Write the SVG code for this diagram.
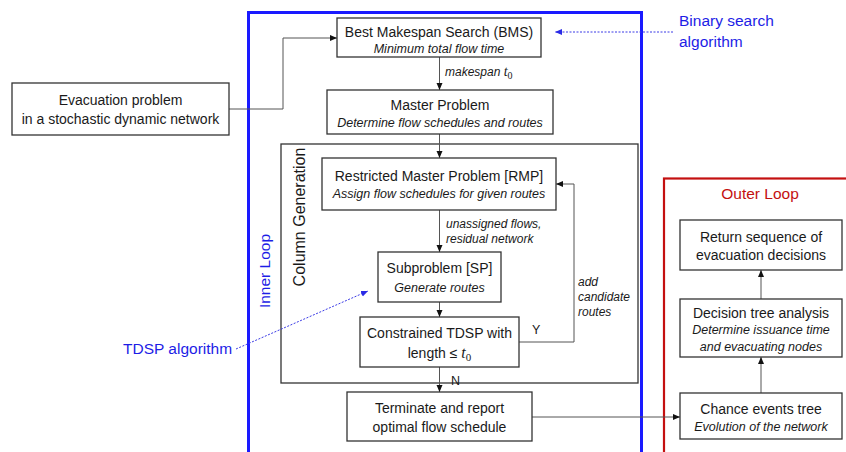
<svg xmlns="http://www.w3.org/2000/svg" width="846" height="452" viewBox="0 0 846 452">
  <style>
    text { font-family: "Liberation Sans", Arial, sans-serif; fill: #1a1a1a; }
    .t { font-size: 14px; text-anchor: middle; }
    .i { font-size: 12.5px; font-style: italic; text-anchor: middle; }
    .lbl { font-size: 12px; font-style: italic; }
    .blue { fill: #1d1de6; font-size: 15.5px; }
    .box { fill: #ffffff; stroke: #333333; stroke-width: 1.3; }
    .edge { fill: none; stroke: #555555; stroke-width: 1; }
    .dot { fill: none; stroke: #3a3ae6; stroke-width: 1; stroke-dasharray: 2 1.5; }
  </style>
  <defs>
    <marker id="arr" markerUnits="userSpaceOnUse" markerWidth="8" markerHeight="8" refX="7" refY="4" orient="auto">
      <path d="M0,1 L7,4 L0,7 Z" fill="#111111"/>
    </marker>
    <marker id="arrB" markerUnits="userSpaceOnUse" markerWidth="8" markerHeight="8" refX="7" refY="4" orient="auto">
      <path d="M0,1 L7,4 L0,7 Z" fill="#2a2ae6"/>
    </marker>
  </defs>

  <rect width="846" height="452" fill="#ffffff"/>

  <!-- loop frames -->
  <g id="inner-loop">
    <rect x="248.5" y="12.5" width="393" height="470" fill="none" stroke="#1a1aff" stroke-width="3"/>
    <text class="blue" transform="translate(270,271) rotate(-90)" text-anchor="middle">Inner Loop</text>
  </g>
  <g id="outer-loop">
    <rect x="664" y="178.5" width="200" height="300" fill="none" stroke="#c41010" stroke-width="2.2"/>
    <text x="760" y="199" text-anchor="middle" style="fill:#c41010;font-size:15.5px">Outer Loop</text>
  </g>
  <g id="column-generation">
    <rect x="281" y="144" width="357" height="239" fill="none" stroke="#333333" stroke-width="1.3"/>
    <text transform="translate(305,217) rotate(-90)" text-anchor="middle" style="font-size:16px">Column Generation</text>
  </g>

  <!-- connectors -->
  <g id="connectors">
    <polyline class="edge" points="229,109 283,109 283,38 337,38" marker-end="url(#arr)"/>
    <line class="edge" x1="439.5" y1="57" x2="439.5" y2="90" marker-end="url(#arr)"/>
    <line class="edge" x1="439.5" y1="134" x2="439.5" y2="158" marker-end="url(#arr)"/>
    <line class="edge" x1="439.5" y1="210" x2="439.5" y2="252" marker-end="url(#arr)"/>
    <line class="edge" x1="439.5" y1="302" x2="439.5" y2="317" marker-end="url(#arr)"/>
    <polyline class="edge" points="519,342 574,342 574,184 556,184" marker-end="url(#arr)"/>
    <line class="edge" x1="439.5" y1="367" x2="439.5" y2="392" marker-end="url(#arr)"/>
    <line class="edge" x1="532" y1="417" x2="680" y2="417" marker-end="url(#arr)"/>
    <line class="edge" x1="761" y1="393" x2="761" y2="357" marker-end="url(#arr)"/>
    <line class="edge" x1="761" y1="299" x2="761" y2="270" marker-end="url(#arr)"/>
    <line class="dot" x1="673" y1="32" x2="555" y2="32" marker-end="url(#arrB)"/>
    <line class="dot" x1="236" y1="349" x2="368" y2="291" marker-end="url(#arrB)"/>

    <text class="lbl" x="445" y="76">makespan <tspan style="font-family:'Liberation Serif',serif;font-size:14px">t</tspan><tspan style="font-family:'Liberation Serif',serif;font-size:10px;font-style:normal" dy="3">0</tspan></text>
    <text class="lbl" x="446" y="228">unassigned flows,</text>
    <text class="lbl" x="446" y="243">residual network</text>
    <text class="lbl" x="578" y="286">add</text>
    <text class="lbl" x="578" y="301">candidate</text>
    <text class="lbl" x="578" y="316">routes</text>
    <text x="532" y="334" style="font-size:12.5px">Y</text>
    <text x="451" y="385" style="font-size:12.5px">N</text>
  </g>

  <!-- annotations -->
  <g id="binary-search-note">
    <text class="blue" x="679" y="26">Binary search</text>
    <text class="blue" x="679" y="47">algorithm</text>
  </g>
  <g id="tdsp-note">
    <text class="blue" x="123" y="354">TDSP algorithm</text>
  </g>

  <!-- nodes -->
  <g id="evacuation-problem">
    <rect class="box" x="12" y="83" width="217" height="52"/>
    <text class="t" x="120.5" y="105">Evacuation problem</text>
    <text class="t" x="120.5" y="124">in a stochastic dynamic network</text>
  </g>
  <g id="bms">
    <rect class="box" x="337" y="18" width="204" height="39"/>
    <text class="t" x="439" y="37">Best Makespan Search (BMS)</text>
    <text class="i" x="439" y="52.5">Minimum total flow time</text>
  </g>
  <g id="master-problem">
    <rect class="box" x="327" y="90" width="226" height="44"/>
    <text class="t" x="440" y="110">Master Problem</text>
    <text class="i" x="440" y="126.5">Determine flow schedules and routes</text>
  </g>
  <g id="rmp">
    <rect class="box" x="322" y="158" width="234" height="52"/>
    <text class="t" x="439" y="181">Restricted Master Problem [RMP]</text>
    <text class="i" x="439" y="197.5">Assign flow schedules for given routes</text>
  </g>
  <g id="subproblem">
    <rect class="box" x="378" y="252" width="123" height="50"/>
    <text class="t" x="439.5" y="273">Subproblem [SP]</text>
    <text class="i" x="439.5" y="291.5">Generate routes</text>
  </g>
  <g id="constrained-tdsp">
    <rect class="box" x="360" y="317" width="159" height="50"/>
    <text class="t" x="439.5" y="338">Constrained TDSP with</text>
    <text class="t" x="439.5" y="358">length ≤ <tspan style="font-family:'Liberation Serif',serif;font-style:italic;font-size:16px">t</tspan><tspan style="font-family:'Liberation Serif',serif;font-size:11px" dy="3">0</tspan></text>
  </g>
  <g id="terminate">
    <rect class="box" x="347" y="392" width="185" height="49"/>
    <text class="t" x="439.5" y="413">Terminate and report</text>
    <text class="t" x="439.5" y="432">optimal flow schedule</text>
  </g>
  <g id="return-sequence">
    <rect class="box" x="680" y="220" width="162" height="50"/>
    <text class="t" x="761" y="242">Return sequence of</text>
    <text class="t" x="761" y="260">evacuation decisions</text>
  </g>
  <g id="decision-tree">
    <rect class="box" x="680" y="299" width="162" height="58"/>
    <text class="t" x="761" y="318">Decision tree analysis</text>
    <text class="i" x="761" y="334">Determine issuance time</text>
    <text class="i" x="761" y="350.5">and evacuating nodes</text>
  </g>
  <g id="chance-events">
    <rect class="box" x="680" y="393" width="162" height="46"/>
    <text class="t" x="761" y="414">Chance events tree</text>
    <text class="i" x="761" y="430.5">Evolution of the network</text>
  </g>
</svg>
